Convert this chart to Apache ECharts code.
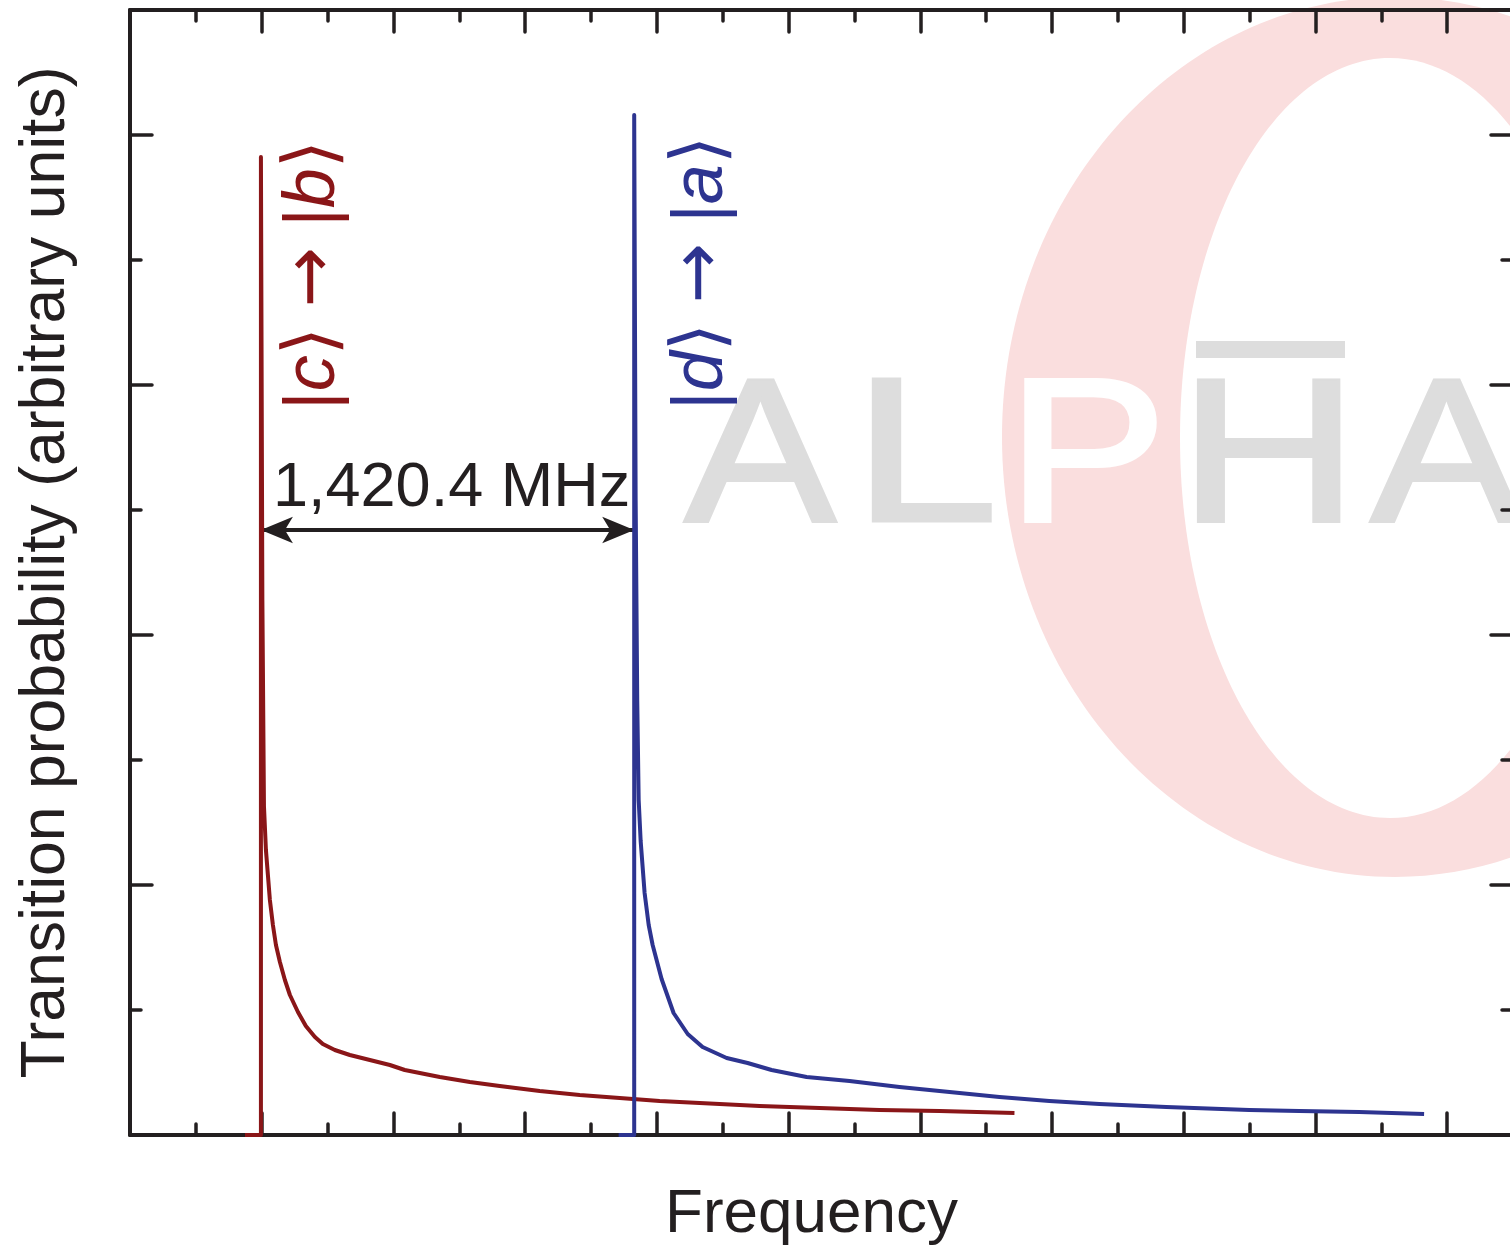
<!DOCTYPE html>
<html>
<head>
<meta charset="utf-8">
<title>Hyperfine transitions</title>
<script src="https://cdn.jsdelivr.net/npm/echarts@6/dist/echarts.min.js"></script>
<style>
  html, body { margin: 0; padding: 0; background: #ffffff; overflow: hidden; }
  #chart { width: 1510px; height: 1245px; }
</style>
</head>
<body>
<div id="chart"></div>
<script>
// ---- data (frequency in axis units, probability in arbitrary units) ----
const redFreq = [0.873, 0.994, 0.994, 1.005, 1.017, 1.032, 1.047, 1.062, 1.085, 1.108, 1.138, 1.176,
  1.214, 1.275, 1.335, 1.404, 1.464, 1.555, 1.669, 1.821, 1.973, 2.086, 2.200, 2.352, 2.580, 2.807,
  3.111, 3.414, 3.718, 4.021, 4.325, 4.780, 5.235, 5.690, 6.146, 6.715];
const redProb = [0, 0, 3.912, 2.14, 1.316, 1.14, 1.04, 0.94, 0.84, 0.76, 0.692, 0.62,
  0.56, 0.492, 0.436, 0.392, 0.364, 0.34, 0.32, 0.30, 0.28, 0.26, 0.248, 0.232, 0.212, 0.196,
  0.176, 0.16, 0.148, 0.136, 0.128, 0.116, 0.108, 0.10, 0.096, 0.088];

const blueFreq = [3.710, 3.828, 3.828, 3.839, 3.851, 3.862, 3.877, 3.907, 3.938, 3.968, 4.036, 4.127,
  4.234, 4.347, 4.530, 4.689, 4.871, 5.137, 5.463, 5.842, 6.222, 6.601, 6.980, 7.360, 7.868, 8.498,
  8.877, 9.332, 9.825];
const blueProb = [0, 0, 4.08, 2.54, 1.74, 1.34, 1.176, 0.968, 0.84, 0.76, 0.624, 0.488,
  0.404, 0.352, 0.308, 0.288, 0.26, 0.232, 0.216, 0.192, 0.172, 0.152, 0.136, 0.124, 0.112, 0.10,
  0.096, 0.092, 0.084];

const xTitle = 'Frequency';
const yTitle = 'Transition probability (arbitrary units)';
const splittingLabel = '1,420.4 MHz';
const redStateLabel = '{n||}{i|c}{n|\u27E9 }{a|\u2192}{n| |}{i|b}{n|\u27E9}';
const blueStateLabel = '{n||}{i|d}{n|\u27E9 }{a|\u2192}{n| |}{i|a}{n|\u27E9}';
const logoLetters = ['A', 'L', 'P', 'H', 'A'];

// ---- styling ----
const INK = '#231f20';
const RED = '#8a1618';
const BLUE = '#2d3490';
const LOGO_GRAY = '#dddddd';
const LOGO_PINK = '#fadede';
const FONT = '"Liberation Sans", Arial, Helvetica, "DejaVu Sans", sans-serif';
const X_MAX = 10.5;
const Y_MAX = 4.5;
const ARROW_LEVEL = 2.42;

const peakX = (fx, py) => fx[py.indexOf(Math.max(...py))];
const redPeakX = peakX(redFreq, redProb);
const bluePeakX = peakX(blueFreq, blueProb);

const toPairs = (xs, ys) => xs.map((x, i) => [x, ys[i]]);

// frame axes: one set with long ticks every unit, one with short ticks every half unit
function frameAxis(position, max, interval, tickLen, showLine) {
  return {
    type: 'value',
    position: position,
    min: 0,
    max: max,
    interval: interval,
    axisLine: { show: showLine, onZero: false, lineStyle: { color: INK, width: 4 } },
    axisTick: { show: true, inside: true, length: tickLen, lineStyle: { color: INK, width: 3.5, cap: 'round' } },
    axisLabel: { show: false },
    splitLine: { show: false },
    z: 1
  };
}

const xBottom = Object.assign(frameAxis('bottom', X_MAX, 1, 22, true), {
  name: xTitle,
  nameLocation: 'middle',
  nameGap: 49,
  nameTextStyle: { fontSize: 62, fontFamily: FONT, color: INK, padding: [0, 20, 0, 0] }
});
const yLeft = Object.assign(frameAxis('left', Y_MAX, 1, 22, true), {
  name: yTitle,
  nameLocation: 'middle',
  nameGap: 52,
  nameTextStyle: { fontSize: 62.5, fontFamily: FONT, color: INK }
});

// logo letters: anchor x, horizontal stretch, and colour (white where the letter sits on the ring)
const letterX = [685, 853, 1007, 1179, 1371];
const letterScale = [1.1, 1.27, 1.17, 1.21, 1.1];
const letterFill = [LOGO_GRAY, LOGO_GRAY, '#ffffff', LOGO_GRAY, LOGO_GRAY];

const logoText = logoLetters.map((ch, i) => ({
  type: 'text',
  x: letterX[i],
  y: 464,
  scaleX: letterScale[i],
  z: -1,
  silent: true,
  style: {
    text: ch,
    fontSize: 205,
    fontFamily: FONT,
    fill: letterFill[i],
    stroke: letterFill[i],
    lineWidth: 4,
    align: 'left',
    verticalAlign: 'middle'
  }
}));

function stateRich(color) {
  return {
    n: { fontSize: 72, fontFamily: FONT, fill: color },
    i: { fontSize: 72, fontFamily: FONT, fontStyle: 'italic', fill: color },
    a: { fontSize: 72, fontFamily: '"DejaVu Sans", sans-serif', fill: color }
  };
}

const chart = echarts.init(document.getElementById('chart'), null, { renderer: 'canvas' });

chart.setOption({
  animation: false,
  backgroundColor: '#ffffff',
  grid: { left: 130, top: 10, width: 1383, height: 1125, outerBoundsMode: 'none', containLabel: false },
  xAxis: [
    xBottom,
    frameAxis('bottom', X_MAX, 0.5, 11, false),
    frameAxis('top', X_MAX, 1, 22, true),
    frameAxis('top', X_MAX, 0.5, 11, false)
  ],
  yAxis: [
    yLeft,
    frameAxis('left', Y_MAX, 0.5, 11, false),
    frameAxis('right', Y_MAX, 1, 22, true),
    frameAxis('right', Y_MAX, 0.5, 11, false)
  ],
  graphic: {
    elements: [
      { type: 'ellipse', silent: true, z: -3, shape: { cx: 1395, cy: 437, rx: 393, ry: 440 }, style: { fill: LOGO_PINK } },
      { type: 'ellipse', silent: true, z: -2, shape: { cx: 1390, cy: 438, rx: 210, ry: 380 }, style: { fill: '#ffffff' } },
      ...logoText,
      { type: 'rect', silent: true, z: -1, shape: { x: 1196, y: 341, width: 149, height: 17 }, style: { fill: LOGO_GRAY } },
      {
        type: 'text', silent: true, z: 10,
        x: 314, y: 410, rotation: Math.PI / 2,
        style: { text: redStateLabel, align: 'left', verticalAlign: 'middle', rich: stateRich(RED) }
      },
      {
        type: 'text', silent: true, z: 10,
        x: 702, y: 410, rotation: Math.PI / 2,
        style: { text: blueStateLabel, align: 'left', verticalAlign: 'middle', rich: stateRich(BLUE) }
      }
    ]
  },
  series: [
    {
      name: 'c-b',
      type: 'line',
      xAxisIndex: 0,
      yAxisIndex: 0,
      data: toPairs(redFreq, redProb),
      showSymbol: false,
      symbol: 'none',
      lineStyle: { color: RED, width: 4, join: 'round' },
      z: 5,
      markLine: {
        silent: true,
        symbol: ['arrow', 'arrow'],
        symbolSize: [20, 32],
        lineStyle: { color: INK, width: 4, type: 'solid' },
        label: {
          show: true,
          position: 'middle',
          formatter: splittingLabel,
          fontSize: 63,
          fontFamily: FONT,
          color: INK,
          distance: 10,
          padding: [0, 0, 0, 8]
        },
        emphasis: { disabled: true },
        data: [[{ coord: [redPeakX, ARROW_LEVEL] }, { coord: [bluePeakX, ARROW_LEVEL] }]]
      }
    },
    {
      name: 'd-a',
      type: 'line',
      xAxisIndex: 0,
      yAxisIndex: 0,
      data: toPairs(blueFreq, blueProb),
      showSymbol: false,
      symbol: 'none',
      lineStyle: { color: BLUE, width: 4, join: 'round' },
      z: 5
    }
  ]
});
</script>
</body>
</html>
